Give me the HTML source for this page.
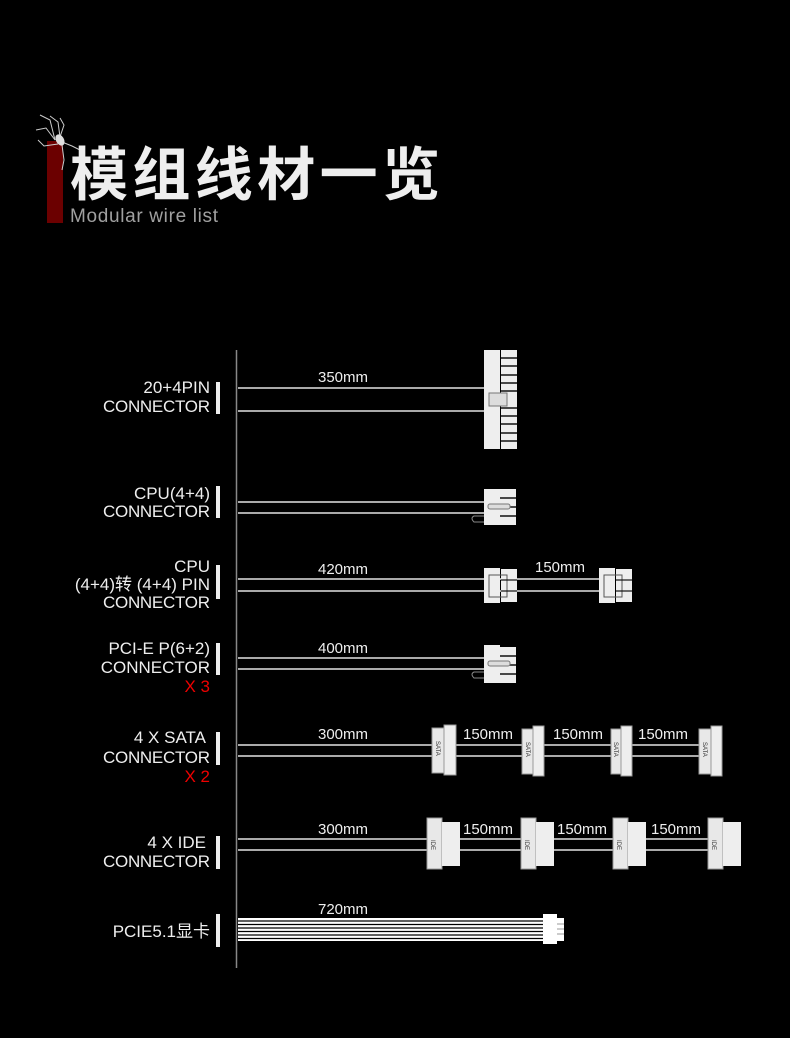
<!DOCTYPE html>
<html><head><meta charset="utf-8"><style>
html,body{margin:0;padding:0;background:#000;}
svg{display:block}
text{font-family:"Liberation Sans","Noto Sans CJK SC",sans-serif;}
</style></head><body>
<svg width="790" height="1038" viewBox="0 0 790 1038" xmlns="http://www.w3.org/2000/svg">
<rect width="790" height="1038" fill="#000"/>
<!-- title -->
<rect x="47" y="141" width="16" height="82" fill="#6b0000"/>
<g stroke="#ccc" stroke-width="1" fill="none">
<path d="M55 140 L46 128 L36 130"/><path d="M55 140 L50 120 L40 115"/><path d="M60 137 L58 122 L50 116"/>
<path d="M60 137 L64 125 L60 118"/><path d="M62 142 L72 146 L80 150"/><path d="M58 144 L44 146 L38 140"/>
<path d="M62 145 L64 160 L62 170"/>
</g>
<ellipse cx="60" cy="140" rx="4" ry="6" fill="#ddd" transform="rotate(-30 60 140)"/>
<text x="70" y="195" font-size="58" font-weight="bold" fill="#eee" font-family="Noto Sans CJK SC,sans-serif" textLength="370">模组线材一览</text>
<text x="70" y="222" font-size="19" fill="#a0a0a0" textLength="148">Modular wire list</text>

<!-- axis -->
<line x1="236.5" y1="350" x2="236.5" y2="968" stroke="#888" stroke-width="1.5"/>

<g fill="#eee" font-size="17" text-anchor="end">
<text x="210" y="393">20+4PIN</text><text x="210" y="412" textLength="107">CONNECTOR</text>
<text x="210" y="499">CPU(4+4)</text><text x="210" y="517" textLength="107">CONNECTOR</text>
<text x="210" y="572">CPU</text><text x="210" y="590">(4+4)转 (4+4) PIN</text><text x="210" y="608" textLength="107">CONNECTOR</text>
<text x="210" y="654">PCI-E P(6+2)</text><text x="210" y="673">CONNECTOR</text>
<text x="210" y="692" fill="#e00">X 3</text>
<text x="206" y="743">4 X SATA</text><text x="210" y="763" textLength="107">CONNECTOR</text>
<text x="210" y="782" fill="#e00">X 2</text>
<text x="206" y="848">4 X IDE</text><text x="210" y="867" textLength="107">CONNECTOR</text>
<text x="210" y="937">PCIE5.1显卡</text>
</g>
<g fill="#eee">
<rect x="216" y="382" width="4" height="32"/><rect x="216" y="486" width="4" height="32"/>
<rect x="216" y="565" width="4" height="34"/><rect x="216" y="643" width="4" height="32"/>
<rect x="216" y="732" width="4" height="33"/><rect x="216" y="836" width="4" height="33"/>
<rect x="216" y="914" width="4" height="33"/>
</g>

<!-- lengths -->
<g fill="#eee" font-size="15">
<text x="318" y="382">350mm</text><text x="318" y="574">420mm</text><text x="535" y="572">150mm</text>
<text x="318" y="653">400mm</text><text x="318" y="739">300mm</text>
<text x="463" y="739">150mm</text><text x="553" y="739">150mm</text><text x="638" y="739">150mm</text>
<text x="318" y="834">300mm</text><text x="463" y="834">150mm</text><text x="557" y="834">150mm</text><text x="651" y="834">150mm</text>
<text x="318" y="914">720mm</text>
</g>

<g stroke="#aaa" stroke-width="2">
<line x1="238" y1="388" x2="484" y2="388"/><line x1="238" y1="411" x2="484" y2="411"/>
<line x1="238" y1="502" x2="484" y2="502"/><line x1="238" y1="513" x2="484" y2="513"/>
<line x1="238" y1="579" x2="600" y2="579"/><line x1="238" y1="591" x2="600" y2="591"/>
<line x1="238" y1="658" x2="484" y2="658"/><line x1="238" y1="669" x2="484" y2="669"/>
<line x1="238" y1="745" x2="700" y2="745"/><line x1="238" y1="756" x2="700" y2="756"/>
<line x1="238" y1="839" x2="710" y2="839"/><line x1="238" y1="850" x2="710" y2="850"/>
</g>

<!-- 24pin -->
<rect x="484" y="350" width="16" height="99" fill="#eee"/>
<g fill="#eee"><rect x="501" y="350" width="16" height="99"/></g>
<g stroke="#111" stroke-width="1.5">
<line x1="501" y1="358" x2="517" y2="358"/><line x1="501" y1="366" x2="517" y2="366"/><line x1="501" y1="375" x2="517" y2="375"/>
<line x1="501" y1="383" x2="517" y2="383"/><line x1="501" y1="391" x2="517" y2="391"/><line x1="501" y1="408" x2="517" y2="408"/>
<line x1="501" y1="416" x2="517" y2="416"/><line x1="501" y1="424" x2="517" y2="424"/><line x1="501" y1="433" x2="517" y2="433"/><line x1="501" y1="441" x2="517" y2="441"/>
</g>
<rect x="489" y="393" width="18" height="13" fill="#ddd" stroke="#777"/>

<!-- cpu -->
<rect x="484" y="489" width="16" height="36" fill="#eee"/><rect x="500" y="489" width="16" height="36" fill="#eee"/>
<g stroke="#111" stroke-width="1.5"><line x1="500" y1="498" x2="516" y2="498"/><line x1="500" y1="507" x2="516" y2="507"/><line x1="500" y1="516" x2="516" y2="516"/></g>
<rect x="488" y="504" width="22" height="5" rx="2" fill="#ddd" stroke="#777"/>
<path d="M484 516 h-10 q-4 2 0 6 h10" stroke="#888" fill="none"/>

<!-- cpu 4+4 -->
<g fill="#eee"><rect x="484" y="568" width="16" height="35"/><rect x="501" y="569" width="16" height="33"/>
<rect x="599" y="568" width="16" height="35"/><rect x="616" y="569" width="16" height="33"/></g>
<g stroke="#555" fill="none"><rect x="489" y="575" width="18" height="22"/><rect x="604" y="575" width="18" height="22"/></g>
<g stroke="#111" stroke-width="1.2"><line x1="501" y1="580" x2="517" y2="580"/><line x1="501" y1="591" x2="517" y2="591"/>
<line x1="616" y1="580" x2="632" y2="580"/><line x1="616" y1="591" x2="632" y2="591"/></g>

<!-- pcie -->
<rect x="484" y="645" width="16" height="38" fill="#eee"/><rect x="500" y="647" width="16" height="36" fill="#eee"/>
<g stroke="#111" stroke-width="1.5"><line x1="500" y1="656" x2="516" y2="656"/><line x1="500" y1="665" x2="516" y2="665"/><line x1="500" y1="674" x2="516" y2="674"/></g>
<rect x="488" y="661" width="22" height="5" rx="2" fill="#ddd" stroke="#777"/>
<path d="M484 672 h-10 q-4 2 0 6 h10" stroke="#888" fill="none"/>

<!-- sata -->
<g font-size="6" fill="#333">
<g transform="translate(432,725)"><rect x="0" y="3" width="12" height="45" fill="#e8e8e8" stroke="#999"/><rect x="12" y="0" width="12" height="50" fill="#eee" stroke="#999"/><text x="0" y="0" transform="translate(4,16) rotate(90)">SATA</text></g>
<g transform="translate(522,726)"><rect x="0" y="3" width="11" height="45" fill="#e8e8e8" stroke="#999"/><rect x="11" y="0" width="11" height="50" fill="#eee" stroke="#999"/><text transform="translate(4,16) rotate(90)">SATA</text></g>
<g transform="translate(611,726)"><rect x="0" y="3" width="10" height="45" fill="#e8e8e8" stroke="#999"/><rect x="10" y="0" width="11" height="50" fill="#eee" stroke="#999"/><text transform="translate(3,16) rotate(90)">SATA</text></g>
<g transform="translate(699,726)"><rect x="0" y="3" width="12" height="45" fill="#e8e8e8" stroke="#999"/><rect x="12" y="0" width="11" height="50" fill="#eee" stroke="#999"/><text transform="translate(4,16) rotate(90)">SATA</text></g>
</g>

<!-- ide -->
<g font-size="6" fill="#333">
<g transform="translate(427,818)"><rect x="0" y="0" width="15" height="51" fill="#e8e8e8" stroke="#999"/><rect x="15" y="4" width="18" height="44" fill="#eee"/><text transform="translate(4,22) rotate(90)">IDE</text></g>
<g transform="translate(521,818)"><rect x="0" y="0" width="15" height="51" fill="#e8e8e8" stroke="#999"/><rect x="15" y="4" width="18" height="44" fill="#eee"/><text transform="translate(4,22) rotate(90)">IDE</text></g>
<g transform="translate(613,818)"><rect x="0" y="0" width="15" height="51" fill="#e8e8e8" stroke="#999"/><rect x="15" y="4" width="18" height="44" fill="#eee"/><text transform="translate(4,22) rotate(90)">IDE</text></g>
<g transform="translate(708,818)"><rect x="0" y="0" width="15" height="51" fill="#e8e8e8" stroke="#999"/><rect x="15" y="4" width="18" height="44" fill="#eee"/><text transform="translate(4,22) rotate(90)">IDE</text></g>
</g>

<!-- pcie5.1 -->
<rect x="238" y="918" width="306" height="23" fill="#fff"/>
<g stroke="#000" stroke-width="1.2">
<line x1="238" y1="921" x2="544" y2="921"/><line x1="238" y1="924.5" x2="544" y2="924.5"/><line x1="238" y1="928" x2="544" y2="928"/>
<line x1="238" y1="931.5" x2="544" y2="931.5"/><line x1="238" y1="935" x2="544" y2="935"/><line x1="238" y1="938.5" x2="544" y2="938.5"/>
</g>
<rect x="543" y="914" width="14" height="30" fill="#fff"/>
<rect x="557" y="918" width="7" height="23" fill="#fff"/>
<g stroke="#999"><line x1="557" y1="924" x2="564" y2="924"/><line x1="557" y1="929" x2="564" y2="929"/><line x1="557" y1="934" x2="564" y2="934"/></g>
</svg>
</body></html>
